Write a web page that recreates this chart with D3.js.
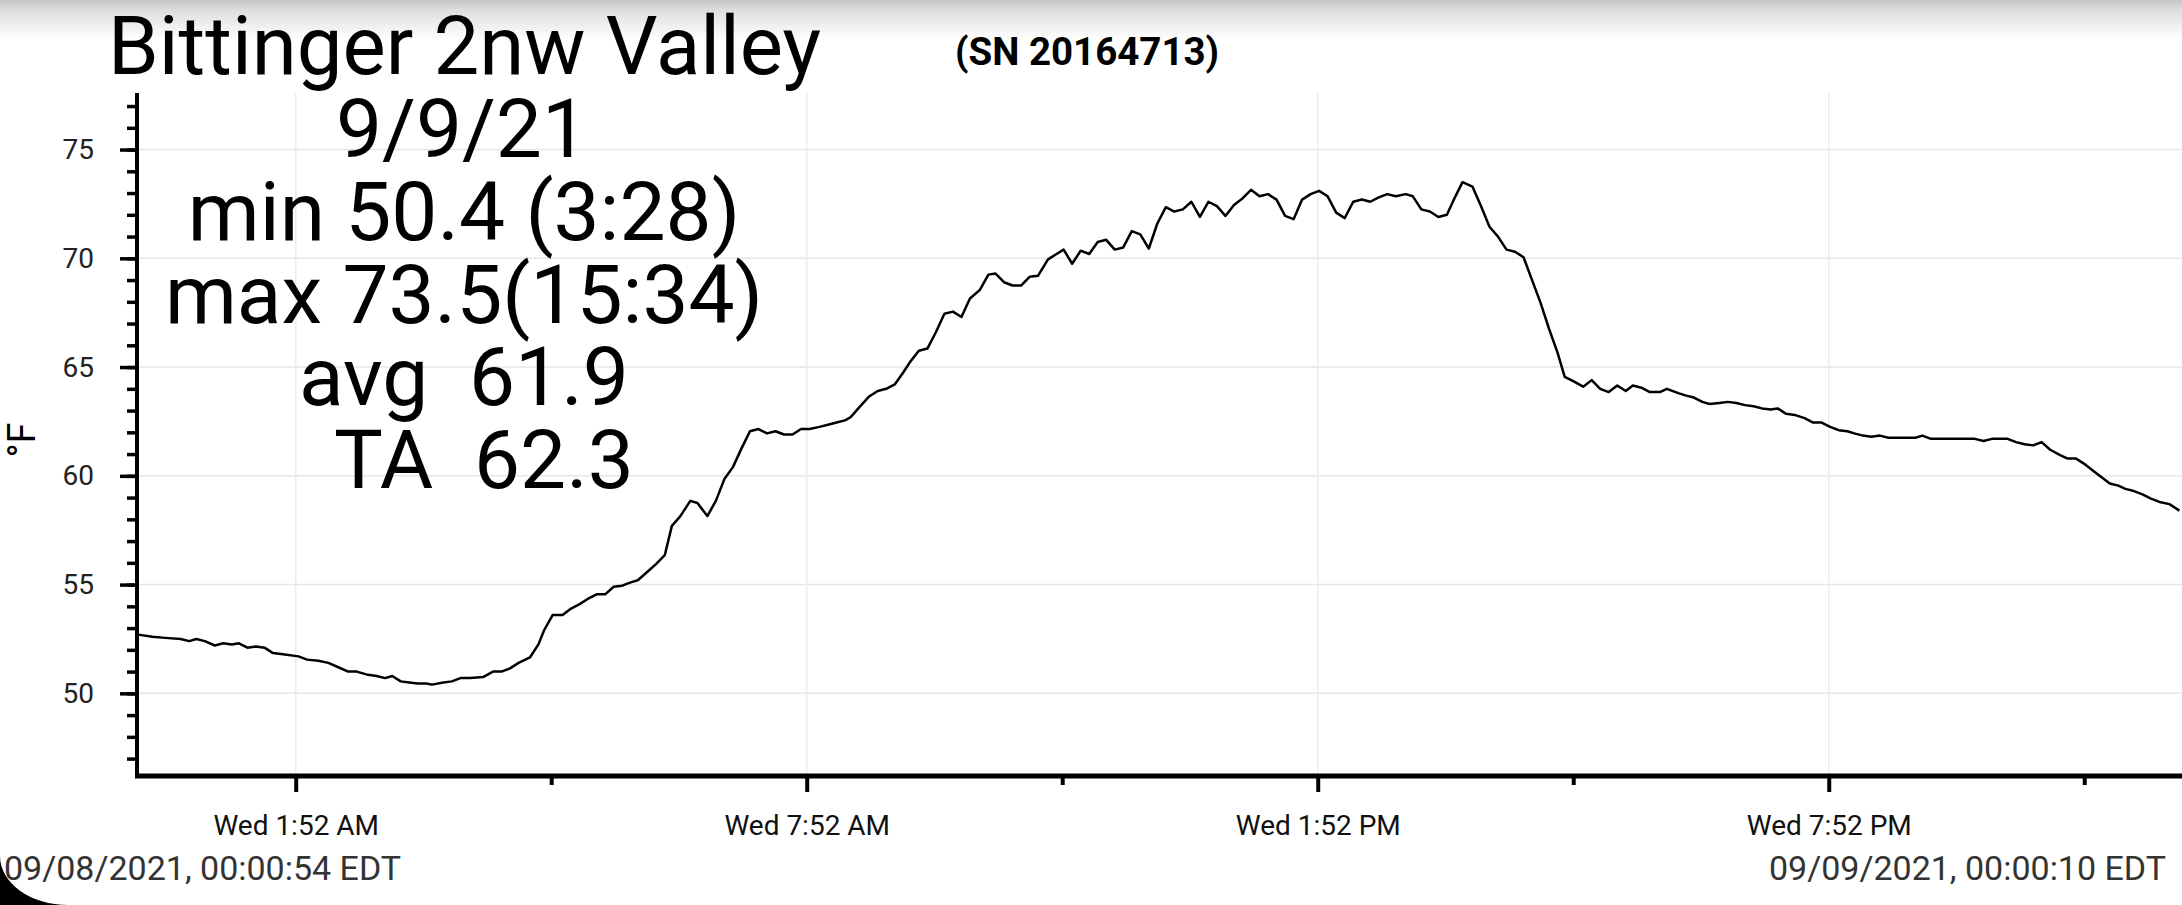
<!DOCTYPE html>
<html>
<head>
<meta charset="utf-8">
<script src="https://cdn.jsdelivr.net/npm/d3@7"></script>
<style>
  body { margin: 0; background: #fff; }
  svg { display: block; font-family: Roboto, "Noto Sans", sans-serif; }
</style>
</head>
<body>
<div class="chart"></div>
<script>
// readings for 9/8/21 (EDT wall clock)
const times = ["0:01","0:11","0:20","0:31","0:37","0:42","0:48","0:55","1:01","1:07","1:12","1:18","1:24","1:30","1:36","1:43","1:54",
  "2:00","2:08","2:15","2:22","2:29","2:35","2:43","2:49","2:55","3:00","3:06","3:12","3:18","3:24","3:28","3:36","3:42","3:48","3:55",
  "4:04","4:11","4:17","4:23","4:29","4:37","4:43","4:47","4:53","5:00","5:06","5:12","5:18","5:24","5:30","5:36","5:42","5:48","5:53",
  "6:00","6:06","6:12","6:17","6:23","6:30","6:35","6:42","6:48","6:54","7:00","7:06","7:12","7:18","7:24","7:30","7:36","7:42","7:48","7:54",
  "8:01","8:07","8:13","8:19","8:23","8:29","8:36","8:42","8:48","8:54","9:00","9:05","9:11","9:17","9:23","9:29","9:35","9:41","9:47","9:54",
  "10:00","10:05","10:11","10:17","10:23","10:29","10:35","10:42","10:48","10:53","10:59","11:05","11:11","11:17","11:23","11:29","11:35","11:41","11:47","11:53","11:59",
  "12:05","12:11","12:17","12:23","12:29","12:35","12:41","12:47","12:53","12:59","13:05","13:11","13:17","13:23","13:29","13:35","13:41","13:47","13:53","13:59",
  "14:05","14:11","14:17","14:23","14:29","14:35","14:41","14:47","14:54","14:59","15:05","15:11","15:17","15:23","15:29","15:34","15:41","15:47","15:53","15:59",
  "16:05","16:11","16:17","16:23","16:29","16:35","16:41","16:46","16:52","16:59","17:05","17:11","17:17","17:23","17:29","17:34","17:40","17:46","17:53","17:58",
  "18:06","18:11","18:17","18:23","18:28","18:35","18:41","18:47","18:53","18:59","19:05","19:11","19:16","19:22","19:28","19:35","19:41","19:47","19:53","19:59",
  "20:05","20:10","20:16","20:22","20:28","20:34","20:47","20:53","20:58","21:04","21:23","21:35","21:41","21:47","21:58",
  "22:04","22:10","22:16","22:22","22:28","22:35","22:40","22:46","22:52","22:58","23:04","23:10","23:16","23:21","23:27","23:33","23:39","23:45","23:52","23:59"];
const temps = [52.7,52.6,52.55,52.5,52.4,52.5,52.4,52.2,52.3,52.25,52.3,52.1,52.15,52.1,51.85,51.8,51.7,
  51.55,51.5,51.4,51.2,51.0,51.0,50.85,50.8,50.7,50.8,50.55,50.5,50.45,50.45,50.4,50.5,50.55,50.7,50.7,
  50.75,51.0,51.0,51.15,51.4,51.65,52.25,52.9,53.6,53.6,53.9,54.1,54.35,54.55,54.55,54.9,54.95,55.1,55.2,
  55.6,55.95,56.35,57.7,58.15,58.85,58.75,58.15,58.85,59.85,60.4,61.25,62.05,62.15,61.95,62.05,61.9,61.9,62.15,62.15,
  62.25,62.35,62.45,62.55,62.7,63.15,63.65,63.9,64.0,64.2,64.75,65.25,65.75,65.85,66.6,67.45,67.55,67.3,68.15,68.55,
  69.25,69.3,68.9,68.75,68.75,69.15,69.2,69.95,70.2,70.4,69.75,70.35,70.2,70.75,70.85,70.4,70.5,71.25,71.1,70.45,71.6,
  72.35,72.15,72.25,72.6,71.9,72.6,72.4,71.95,72.45,72.75,73.15,72.85,72.95,72.7,71.95,71.8,72.7,72.95,73.1,72.85,
  72.1,71.85,72.6,72.7,72.6,72.8,72.95,72.85,72.95,72.85,72.25,72.15,71.9,72.0,72.85,73.5,73.3,72.4,71.45,71.0,
  70.4,70.3,70.05,69.0,67.95,66.75,65.65,64.55,64.35,64.1,64.4,64.0,63.85,64.15,63.9,64.15,64.05,63.85,63.85,64.0,
  63.8,63.7,63.6,63.4,63.3,63.35,63.4,63.35,63.25,63.2,63.1,63.05,63.1,62.85,62.8,62.65,62.45,62.45,62.25,62.1,
  62.05,61.95,61.85,61.8,61.85,61.75,61.75,61.75,61.85,61.7,61.7,61.7,61.6,61.7,61.7,
  61.55,61.45,61.4,61.55,61.2,60.95,60.8,60.8,60.55,60.25,59.95,59.65,59.55,59.4,59.3,59.15,58.95,58.8,58.7,58.4];

const majorTicks = ["1:52","7:52","13:52","19:52"];
const minorTicks = ["4:52","10:52","16:52","22:52"];
const yTicks = [50, 55, 60, 65, 70, 75];
const yMinor = d3.range(47, 78);
const statLines = ["9/9/21", "min 50.4 (3:28)", "max 73.5(15:34)", "avg  61.9", "TA  62.3"];

const W = 2182, H = 905;
const plotLeft = 137, plotTop = 93, plotBottom = 776;

// wall-clock times kept in UTC so the browser timezone does not matter
function toDate(hm, day = 8) {
  const [h, m] = hm.split(":").map(Number);
  return new Date(Date.UTC(2021, 8, day, h, m));
}
const data = times.map((t, i) => ({ date: toDate(t), temp: temps[i] }));

const x = d3.scaleUtc()
  .domain([new Date(Date.UTC(2021, 8, 8, 0, 0, 54)), new Date(Date.UTC(2021, 8, 9, 0, 0, 10))])
  .range([138, 2181]);
const y = d3.scaleLinear().domain([46.2, 77.6]).range([plotBottom, plotTop]);

const svg = d3.select(".chart").append("svg")
  .attr("width", W).attr("height", H);

// faint shadow band along the top edge
const grad = svg.append("defs").append("linearGradient")
  .attr("id", "topShade").attr("x1", 0).attr("x2", 0).attr("y1", 0).attr("y2", 1);
grad.append("stop").attr("offset", "0%").attr("stop-color", "#c4c4c4");
grad.append("stop").attr("offset", "25%").attr("stop-color", "#dedede");
grad.append("stop").attr("offset", "100%").attr("stop-color", "#ffffff");
svg.append("rect").attr("x", 0).attr("y", 0).attr("width", W).attr("height", 40)
  .attr("fill", "url(#topShade)");

svg.append("clipPath").attr("id", "plotClip").append("rect")
  .attr("x", plotLeft).attr("y", plotTop).attr("width", W - plotLeft).attr("height", plotBottom - plotTop);

// grid
svg.append("g").selectAll("line").data(yTicks).enter().append("line")
  .attr("x1", plotLeft).attr("x2", W)
  .attr("y1", d => y(d)).attr("y2", d => y(d))
  .attr("stroke", "#e6e6e6").attr("stroke-width", 1.5);
svg.append("g").selectAll("line").data(majorTicks).enter().append("line")
  .attr("x1", d => x(toDate(d))).attr("x2", d => x(toDate(d)))
  .attr("y1", plotTop).attr("y2", plotBottom)
  .attr("stroke", "#ececec").attr("stroke-width", 1.5);

// temperature trace
const line = d3.line().x(d => x(d.date)).y(d => y(d.temp));
svg.append("path").datum(data)
  .attr("clip-path", "url(#plotClip)")
  .attr("d", line)
  .attr("fill", "none").attr("stroke", "#000").attr("stroke-width", 2.5)
  .attr("stroke-linejoin", "round");

// y axis
const yMinorAxis = d3.axisLeft(y).tickValues(yMinor).tickSize(10).tickSizeOuter(0).tickFormat("");
svg.append("g").attr("transform", `translate(${plotLeft},0)`).call(yMinorAxis)
  .call(g => g.select(".domain").remove())
  .call(g => g.selectAll("line").attr("stroke", "#000").attr("stroke-width", 3.5));

const yAxis = d3.axisLeft(y).tickValues(yTicks).tickSize(17).tickSizeOuter(0).tickPadding(26);
svg.append("g").attr("transform", `translate(${plotLeft},0)`).call(yAxis)
  .call(g => g.select(".domain").attr("d", `M0,${plotTop}V${plotBottom + 2}`).attr("stroke", "#000").attr("stroke-width", 4))
  .call(g => g.selectAll("line").attr("stroke", "#000").attr("stroke-width", 3.5))
  .call(g => g.selectAll("text").attr("font-size", 28).attr("fill", "#222")
    .attr("font-family", "Roboto"));

// x axis
const xMinorAxis = d3.axisBottom(x).tickValues(minorTicks.map(d => toDate(d))).tickSize(9).tickSizeOuter(0).tickFormat("");
svg.append("g").attr("transform", `translate(0,${plotBottom})`).call(xMinorAxis)
  .call(g => g.select(".domain").remove())
  .call(g => g.selectAll("line").attr("stroke", "#000").attr("stroke-width", 4));

const xAxis = d3.axisBottom(x).tickValues(majorTicks.map(d => toDate(d)))
  .tickSize(16).tickSizeOuter(0).tickPadding(23)
  .tickFormat(d3.utcFormat("%a %-I:%M %p"));
svg.append("g").attr("transform", `translate(0,${plotBottom})`).call(xAxis)
  .call(g => g.select(".domain").attr("d", `M${plotLeft - 2},0H${W}`).attr("stroke", "#000").attr("stroke-width", 5))
  .call(g => g.selectAll("line").attr("stroke", "#000").attr("stroke-width", 4))
  .call(g => g.selectAll("text").attr("font-size", 28).attr("fill", "#111")
    .attr("font-family", "Roboto"));

svg.append("text")
  .attr("transform", "translate(35,440) rotate(-90)")
  .attr("text-anchor", "middle")
  .attr("font-size", 38)
  .text("°F");

// title block
svg.append("text")
  .attr("x", 108).attr("y", 74)
  .attr("font-size", 81.5)
  .text("Bittinger 2nw Valley");

svg.append("text")
  .attr("x", 955).attr("y", 65)
  .attr("font-size", 38.5).attr("font-weight", "bold")
  .text("(SN 20164713)");

const statX = [462, 464, 464, 464, 484];
const statY = [157, 240, 323, 405, 488];
svg.append("g").selectAll("text").data(statLines).enter().append("text")
  .attr("x", (d, i) => statX[i]).attr("y", (d, i) => statY[i])
  .attr("text-anchor", "middle")
  .attr("font-size", 82)
  .style("white-space", "pre")
  .text(d => d);

// date range footer
svg.append("text")
  .attr("x", 4).attr("y", 880)
  .attr("font-size", 34).attr("fill", "#333")
  .text("09/08/2021, 00:00:54 EDT");
svg.append("text")
  .attr("x", 2166).attr("y", 880)
  .attr("text-anchor", "end")
  .attr("font-size", 34).attr("fill", "#333")
  .text("09/09/2021, 00:00:10 EDT");

// rounded screen corner
svg.append("path")
  .attr("d", "M0,856 A68,49 0 0 0 68,905 L0,905 Z")
  .attr("fill", "#000");
</script>
</body>
</html>
